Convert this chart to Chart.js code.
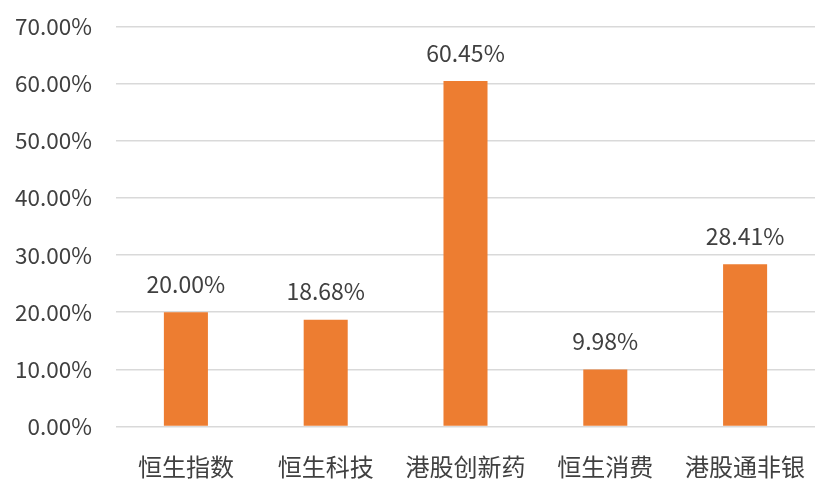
<!DOCTYPE html>
<html>
<head>
<meta charset="utf-8">
<script src="https://cdn.jsdelivr.net/npm/chart.js@4.4.0/dist/chart.umd.min.js"></script>
<style>
  html, body { margin: 0; padding: 0; background: #fff; }
  #wrap { width: 838px; height: 503px; }
</style>
</head>
<body>
<div id="wrap"><canvas id="myChart" width="838" height="503"></canvas></div>
<script>
var categories = ['恒生指数', '恒生科技', '港股创新药', '恒生消费', '港股通非银'];
var returns = [20.00, 18.68, 60.45, 9.98, 28.41];
var yMax = 70;
var yStep = 10;

var textColor = '#404040';
var fontFamily = '"Noto Sans CJK SC", "Noto Sans", sans-serif';

// labels above bars, placed from the bar elements
const barLabels = {
    id: 'barLabels',
    afterDatasetsDraw(chart) {
        const ctx = chart.ctx;
        const meta = chart.getDatasetMeta(0);
        ctx.save();
        ctx.font = '23px ' + fontFamily;
        ctx.fillStyle = textColor;
        ctx.textAlign = 'center';
        ctx.textBaseline = 'middle';
        meta.data.forEach(function (bar, i) {
            ctx.fillText(returns[i].toFixed(2) + '%', bar.x, bar.y - 28);
        });
        ctx.restore();
    }
};

let myChart = document.getElementById('myChart').getContext('2d');

const barChart = new Chart(myChart, {
    type: 'bar',
    data: {
        labels: categories,
        datasets: [{
            data: returns,
            backgroundColor: '#ED7D31',
            categoryPercentage: 1,
            barPercentage: 0.315
        }]
    },
    options: {
        responsive: false,
        animation: false,
        layout: { padding: { top: 26.5, right: 23, left: 0, bottom: 0 } },
        scales: {
            x: {
                grid: { display: false },
                border: { display: false },
                ticks: {
                    color: textColor,
                    font: { family: fontFamily, size: 24 },
                    padding: 18
                },
                afterFit: function (scale) { scale.height = 76.5; }
            },
            y: {
                min: 0,
                max: yMax,
                grid: { color: '#d9d9d9', lineWidth: 1.5, drawTicks: false },
                border: { display: false },
                ticks: {
                    stepSize: yStep,
                    color: textColor,
                    font: { family: fontFamily, size: 22.5 },
                    padding: 24,
                    callback: function (v) { return v.toFixed(2) + '%'; }
                },
                afterFit: function (scale) {
                    scale.width = 116;
                    scale.paddingTop = 0;
                    scale.paddingBottom = 0;
                }
            }
        },
        plugins: {
            legend: { display: false },
            tooltip: { enabled: false }
        }
    },
    plugins: [barLabels]
});
</script>
</body>
</html>
